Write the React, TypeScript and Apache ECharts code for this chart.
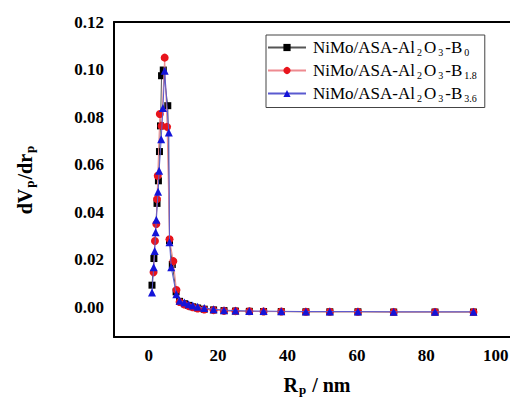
import React, { useEffect, useRef } from "react";
import * as echarts from "echarts";

const seriesNames = ["NiMo/ASA-Al2O3-B0", "NiMo/ASA-Al2O3-B1.8", "NiMo/ASA-Al2O3-B3.6"];
const seriesSubs = ["0", "1.8", "3.6"];

const radiusB0 = [0.95, 1.5, 2.4, 2.8, 3.1, 3.4, 3.7, 4.2, 5.5, 6.0, 6.8, 7.9, 8.9, 10.3, 11.5, 12.7, 14.1, 16.0, 18.7, 21.7, 25.0, 29.0, 33.1, 38.2, 45.3, 52.2, 60.3, 70.6, 82.5, 93.6];
const dvB0 = [0.0093, 0.0205, 0.0437, 0.0532, 0.0655, 0.0763, 0.0974, 0.0998, 0.0848, 0.028, 0.018, 0.0065, 0.0025, 0.0015, 0.0008, 0.0002, -0.0003, -0.0008, -0.0011, -0.0014, -0.0016, -0.0017, -0.0018, -0.0018, -0.0019, -0.0019, -0.0019, -0.002, -0.002, -0.002];

const radiusB18 = [1.4, 1.8, 2.2, 2.4, 2.6, 3.2, 3.7, 4.6, 5.3, 6.0, 7.1, 8.0, 8.9, 10.3, 11.5, 12.7, 14.1, 16.0, 18.7, 21.7, 25.0, 29.0, 33.1, 38.2, 45.3, 52.2, 60.3, 70.6, 82.5, 93.6];
const dvB18 = [0.0147, 0.0279, 0.035, 0.0455, 0.0553, 0.0813, 0.0763, 0.105, 0.0759, 0.0286, 0.0194, 0.0073, 0.0022, 0.0012, 0.0005, 0.0, -0.0005, -0.0009, -0.0012, -0.0015, -0.0016, -0.0017, -0.0018, -0.0018, -0.0019, -0.0019, -0.0019, -0.002, -0.002, -0.002];

const radiusB36 = [0.95, 1.44, 1.72, 2.0, 2.2, 2.7, 3.0, 3.6, 4.1, 4.6, 5.8, 6.0, 6.5, 7.95, 8.9, 10.3, 11.5, 12.7, 14.1, 16.0, 18.7, 21.7, 25.0, 29.0, 33.1, 38.2, 45.3, 52.2, 60.3, 70.6, 82.5, 93.6];
const dvB36 = [0.0062, 0.0168, 0.0237, 0.0316, 0.0368, 0.0486, 0.0574, 0.0707, 0.0838, 0.0995, 0.0735, 0.0274, 0.0168, 0.0055, 0.0028, 0.002, 0.0013, 0.0007, 0.0002, -0.0003, -0.0008, -0.0012, -0.0014, -0.0016, -0.0016, -0.0017, -0.0018, -0.0018, -0.0018, -0.0019, -0.0019, -0.0019];

const xTicks = [0, 20, 40, 60, 80, 100];
const yTicks = [0, 0.02, 0.04, 0.06, 0.08, 0.1, 0.12];

const FONT = "'Liberation Serif', 'Times New Roman', serif";

function zip(xs: number[], ys: number[]) {
  return xs.map((x, i) => [x, ys[i]]);
}

export default function App() {
  const ref = useRef<HTMLDivElement>(null);
  useEffect(() => {
    if (!ref.current) return;
    document.documentElement.style.overflow = "hidden";
    document.body.style.overflow = "hidden";
    document.body.style.margin = "0";
    const chart = echarts.init(ref.current, undefined, { renderer: "svg" });
    const legendRich = {
      n: { fontFamily: FONT, fontSize: 17, color: "#000", lineHeight: 20 },
      s: { fontFamily: FONT, fontSize: 10, color: "#000", lineHeight: 20, verticalAlign: "bottom" as const, padding: [0, 2, 0, 2] },
    };
    const axisRich = {
      n: { fontFamily: FONT, fontSize: 20, fontWeight: "bold" as const, color: "#000", lineHeight: 22 },
      s: { fontFamily: FONT, fontSize: 13, fontWeight: "bold" as const, color: "#000", lineHeight: 22, verticalAlign: "bottom" as const, padding: [0, 1, 0, 1] },
    };
    const colors = ["#000000", "#e8141c", "#1414d8"];
    const lineColors = ["#555555", "#ee8a90", "#5a5ad0"];
    const symbols = ["rect", "circle", "triangle"];
    const sizes = [7, 8, 8];
    const datas = [zip(radiusB0, dvB0), zip(radiusB18, dvB18), zip(radiusB36, dvB36)];
    const tickLabel = {
      fontFamily: FONT,
      fontSize: 17,
      fontWeight: "bold" as const,
      color: "#000",
      margin: 10,
    };
    chart.setOption({
      animation: false,
      grid: {
        left: 114,
        top: 22,
        right: 30,
        bottom: 63,
        outerBoundsMode: "none",
        containLabel: false,
        show: false,
      },
      legend: {
        orient: "vertical",
        left: 266,
        top: 35,
        padding: [4, 6, 4, 1],
        itemGap: 4.5,
        itemWidth: 38,
        itemHeight: 9,
        borderColor: "#444",
        borderWidth: 1,
        backgroundColor: "#fff",
        data: seriesNames,
        formatter: (name: string) => {
          const i = seriesNames.indexOf(name);
          return "{n|NiMo/ASA-Al}{s|2}{n|O}{s|3}{n|-B}{s|" + seriesSubs[i] + "}";
        },
        textStyle: { fontFamily: FONT, fontSize: 17, color: "#000", rich: legendRich, padding: [0, 0, 0, 2] },
      },
      xAxis: [
        {
          type: "value",
          min: -10,
          max: 107,
          name: "{n|R}{s|p}{n| / nm}",
          nameLocation: "middle",
          nameGap: 37,
          nameTextStyle: { rich: axisRich },
          axisLine: { show: true, onZero: false, lineStyle: { color: "#000", width: 2 } },
          axisTick: { show: false },
          splitLine: { show: false },
          axisLabel: { ...tickLabel, customValues: xTicks },
        },
        {
          type: "value",
          position: "top",
          min: -10,
          max: 107,
          axisLine: { show: true, onZero: false, lineStyle: { color: "#000", width: 2 } },
          axisTick: { show: false },
          axisLabel: { show: false },
          splitLine: { show: false },
        },
      ],
      yAxis: {
        type: "value",
        min: -0.0125,
        max: 0.12,
        name: "{n|dV}{s|p}{n|/dr}{s|p}",
        nameLocation: "middle",
        nameGap: 78,
        nameRotate: 90,
        nameTextStyle: { rich: axisRich },
        axisLine: { show: true, onZero: false, lineStyle: { color: "#000", width: 2 } },
        axisTick: { show: false },
        splitLine: { show: false },
        axisLabel: { ...tickLabel, customValues: yTicks, formatter: (v: number) => v.toFixed(2) },
      },
      series: seriesNames.map((name, i) => ({
        name,
        type: "line",
        data: datas[i],
        symbol: symbols[i],
        symbolSize: sizes[i],
        showSymbol: true,
        itemStyle: { color: colors[i] },
        lineStyle: { color: lineColors[i], width: 1 },
        z: 2 + i,
      })),
    });
    return () => chart.dispose();
  }, []);
  return (
    <div style={{ position: "absolute", left: 0, top: 0, width: 510, height: 400, overflow: "hidden" }}>
      <div ref={ref} style={{ width: 550, height: 400 }} />
    </div>
  );
}
